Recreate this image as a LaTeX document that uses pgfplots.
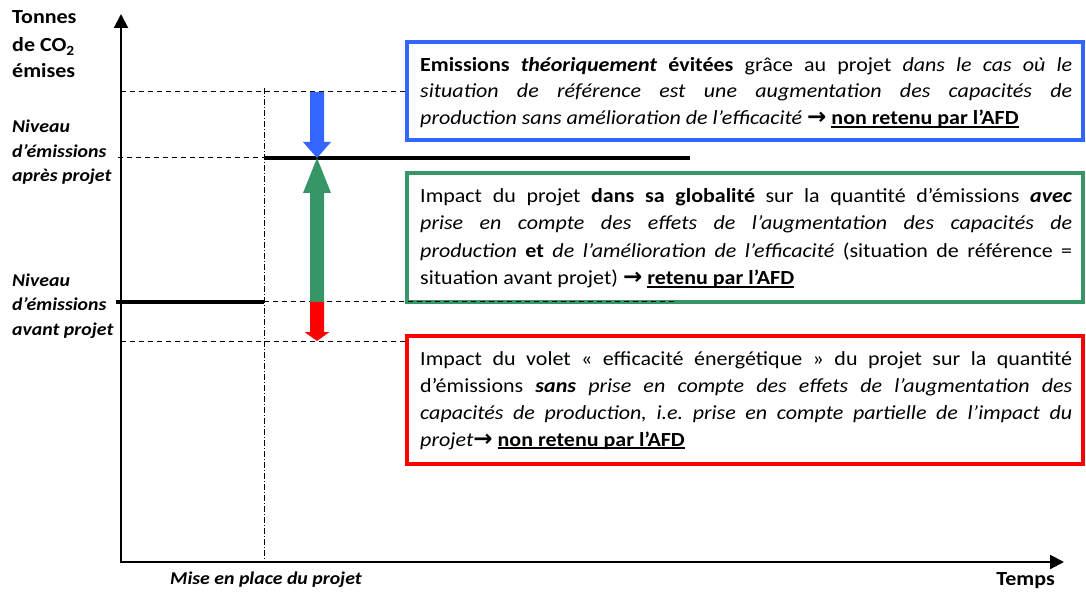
\documentclass[border=0pt]{standalone}
\usepackage{fontspec}
\setmainfont[FakeStretch=1.1]{Carlito}
\newfontfamily\arrowfont{DejaVu Sans}
\usepackage{pgfplots}
\pgfplotsset{compat=1.18}
\usetikzlibrary{arrows.meta}
\definecolor{cblue}{RGB}{51,102,255}
\definecolor{cgreen}{RGB}{54,150,104}
\definecolor{cred}{RGB}{255,0,0}
\frenchspacing
\newcommand\J[1]{\hbox to 652pt{#1}}
\newcommand\ul[1]{\setbox0\hbox{#1}\rlap{\rule[-2.6pt]{\wd0}{1.3pt}}\box0}
\newcommand\arr{{\arrowfont\bfseries\fontsize{23}{24}\selectfont →}}
\newcommand\bx{\fontsize{20}{24}\selectfont\frenchspacing}
\begin{document}
\begin{tikzpicture}
\begin{axis}[
  scale only axis, width=1086pt, height=593pt,
  xmin=0, xmax=1086, ymin=0, ymax=593, y dir=reverse,
  hide axis, clip=false,
]
\path (axis cs:0,0) rectangle (axis cs:1086,593);
% boxes
\addplot[draw=cblue, line width=3.5pt, fill=white] coordinates {(407,42) (1083,42) (1083,140) (407,140)} -- cycle;
\addplot[draw=cgreen, line width=3.5pt, fill=white] coordinates {(407,173) (1083,173) (1083,302) (407,302)} -- cycle;
\addplot[draw=cred, line width=3.5pt, fill=white] coordinates {(407,336) (1083,336) (1083,464) (407,464)} -- cycle;
% dashed guide lines
\addplot[black, line width=1pt, dash pattern=on 5pt off 4pt] coordinates {(121,92) (405,92)};
\addplot[black, line width=1pt, dash pattern=on 5pt off 4pt] coordinates {(118,158) (264,158)};
\addplot[black, line width=1pt, dash pattern=on 5pt off 4pt] coordinates {(264,302) (675,302)};
\addplot[black, line width=1pt, dash pattern=on 5pt off 4pt] coordinates {(121,341) (405,341)};
% vertical dash-dot
\addplot[black, line width=0.8pt, dash pattern=on 6pt off 2pt on 1pt off 2pt] coordinates {(264,88) (264,562)};
% axes
\addplot[black, line width=2pt, -{Triangle[width=14pt,length=14pt]}] coordinates {(121,563) (121,14)};
\addplot[black, line width=2pt, -{Triangle[width=14pt,length=14pt]}] coordinates {(120,562) (1064,562)};
% emission levels
\addplot[black, line width=4pt] coordinates {(116,302) (264,302)};
\addplot[black, line width=4pt] coordinates {(264,158) (690,158)};
% block arrows
\addplot[fill=cblue, draw=none] coordinates {(310,92) (324,92) (324,142) (331,142) (317,158) (303,142) (310,142)} -- cycle;
\addplot[fill=cgreen, draw=none] coordinates {(317,158) (331,193) (324,193) (324,302) (310,302) (310,193) (303,193)} -- cycle;
\addplot[fill=cred, draw=none] coordinates {(310,302) (324,302) (324,332) (329.5,332) (317,341) (304.5,332) (310,332)} -- cycle;
% left labels
\node[anchor=base west, inner sep=0, font=\fontsize{20}{24}\selectfont\bfseries] at (axis cs:12,24) {Tonnes};
\node[anchor=base west, inner sep=0, font=\fontsize{20}{24}\selectfont\bfseries] at (axis cs:12,52) {de CO\textsubscript{2}};
\node[anchor=base west, inner sep=0, font=\fontsize{20}{24}\selectfont\bfseries] at (axis cs:12,78) {émises};
\node[anchor=base west, inner sep=0, font=\fontsize{18}{22}\selectfont\bfseries\itshape] at (axis cs:12,133) {Niveau};
\node[anchor=base west, inner sep=0, font=\fontsize{18}{22}\selectfont\bfseries\itshape] at (axis cs:12,158) {d’émissions};
\node[anchor=base west, inner sep=0, font=\fontsize{18}{22}\selectfont\bfseries\itshape] at (axis cs:12,182) {après projet};
\node[anchor=base west, inner sep=0, font=\fontsize{18}{22}\selectfont\bfseries\itshape] at (axis cs:12,287) {Niveau};
\node[anchor=base west, inner sep=0, font=\fontsize{18}{22}\selectfont\bfseries\itshape] at (axis cs:12,311) {d’émissions};
\node[anchor=base west, inner sep=0, font=\fontsize{18}{22}\selectfont\bfseries\itshape] at (axis cs:12,335) {avant projet};
\node[anchor=base west, inner sep=0, font=\fontsize{18}{22}\selectfont\bfseries\itshape] at (axis cs:170,584) {Mise en place du projet};
\node[anchor=base east, inner sep=0, font=\fontsize{20}{24}\selectfont\bfseries] at (axis cs:1055,585) {Temps};
% blue box text
\node[anchor=base west, inner sep=0, font=\bx] at (axis cs:420,72) {\J{\textbf{Emissions} \textbf{\textit{théoriquement}} \textbf{évitées} grâce au projet \textit{dans} \textit{le} \textit{cas} \textit{où} \textit{le}}};
\node[anchor=base west, inner sep=0, font=\bx] at (axis cs:420,98) {\J{\itshape situation de référence est une augmentation des capacités de}};
\node[anchor=base west, inner sep=0, font=\bx] at (axis cs:420,125) {\textit{production sans amélioration de l’efficacité} \arr{} \textbf{\ul{non retenu par l’AFD}}};
% green box text
\node[anchor=base west, inner sep=0, font=\bx] at (axis cs:420,203) {\J{Impact du projet \textbf{dans} \textbf{sa} \textbf{globalité} sur la quantité d’émissions \textbf{\textit{avec}}}};
\node[anchor=base west, inner sep=0, font=\bx] at (axis cs:420,230) {\J{\itshape prise en compte des effets de l’augmentation des capacités de}};
\node[anchor=base west, inner sep=0, font=\bx] at (axis cs:420,258) {\J{\textit{production} \textbf{et} \textit{de} \textit{l’amélioration} \textit{de} \textit{l’efficacité} (situation de référence =}};
\node[anchor=base west, inner sep=0, font=\bx] at (axis cs:420,285) {situation avant projet) \arr{} \textbf{\ul{retenu par l’AFD}}};
% red box text
\node[anchor=base west, inner sep=0, font=\bx] at (axis cs:420,365) {\J{Impact du volet « efficacité énergétique » du projet sur la quantité}};
\node[anchor=base west, inner sep=0, font=\bx] at (axis cs:420,392) {\J{d’émissions \textbf{\textit{sans}} \textit{prise} \textit{en} \textit{compte} \textit{des} \textit{effets} \textit{de} \textit{l’augmentation} \textit{des}}};
\node[anchor=base west, inner sep=0, font=\bx] at (axis cs:420,419) {\J{\itshape capacités de production, i.e. prise en compte partielle de l’impact du}};
\node[anchor=base west, inner sep=0, font=\bx] at (axis cs:420,446) {\textit{projet}\arr{} \textbf{\ul{non retenu par l’AFD}}};
\end{axis}
\end{tikzpicture}
\end{document}
